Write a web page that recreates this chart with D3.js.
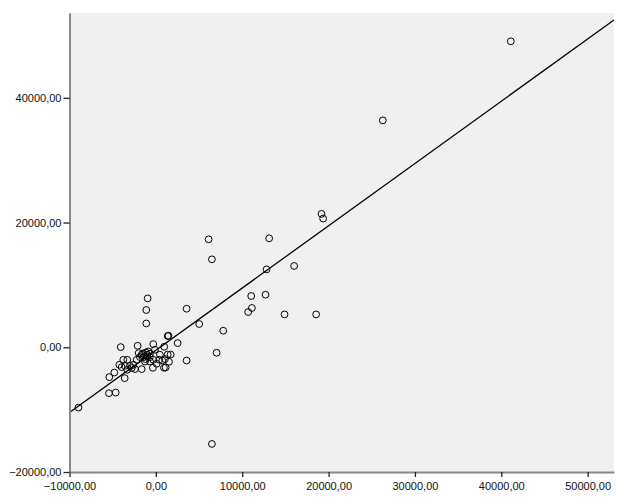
<!DOCTYPE html>
<html>
<head>
<meta charset="utf-8">
<script src="https://cdn.jsdelivr.net/npm/d3@7"></script>
<style>
  html, body { margin: 0; padding: 0; background: #ffffff; }
  svg { display: block; }
  text { font-family: Arial, "Liberation Sans", sans-serif; }
</style>
</head>
<body>
<svg id="chart" width="629" height="504"></svg>
<script>
// ---- data ----
const xVals = [41100, 26280, 19180, 19370, 6110, 13120, 6490, 12820, 16010, 11040,
  12700, 11120, 10690, 14900, 18560, 3560, 5020, 7800, 7030, 3560,
  2520, 6490, -8960, -950, -1110, -1110, 1370, 1460, -4070, -2110,
  -300, 970, -5430, -4650, -5390, -4810, -3610, -1640, -340, 940,
  1130, 1520, 1710, 1370, 470, 390, 740, -4230, -3770, -3310,
  -3580, -3960, -3000, -2610, -2420, -2800, -1990, -1640, -1150, -880,
  -680, -990, -1380, -1840, -100, -300, 1050, 90, -680, -1260,
  -2220, -3310, -1500, -1000, -700, -1200];
const yVals = [49060, 36380, 21390, 20640, 17310, 17470, 14100, 12490, 13040, 8220,
  8430, 6300, 5650, 5270, 5270, 6180, 3730, 2650, -880, -2120,
  670, -15500, -9670, 7840, 5970, 3820, 1800, 1850, 30, 240,
  510, 80, -7360, -7260, -4790, -4050, -4950, -3500, -3290, -3290,
  -3240, -2330, -1160, -1160, -1200, -2010, -2120, -2810, -2010, -2010,
  -2970, -3180, -2970, -2810, -3500, -3340, -930, -1200, -840, -670,
  -1040, -1480, -1570, -1570, -400, -2010, -1900, -2650, -2280, -2280,
  -2010, -3610, -1000, -1200, -1600, -1900];
const xTicks = [-10000, 0, 10000, 20000, 30000, 40000, 50000];
const yTicks = [-20000, 0, 20000, 40000];
const fitSlope = 0.9985;
const fitIntercept = -485;
const xDomain = [-10000, 53050];
const yDomain = [-20000, 53600];

(function () {
// ---- layout ----
const pL = 69.5, pR = 614, pT = 13, pB = 472;
const svg = d3.select("#chart");
const x = d3.scaleLinear().domain(xDomain).range([pL, pR]);
const y = d3.scaleLinear().domain(yDomain).range([pB, pT]);
const fmt = v => d3.format(".2f")(v).replace(".", ",");

svg.append("rect").attr("x", 0).attr("y", 0).attr("width", 629).attr("height", 504).attr("fill", "#fff");
svg.append("rect").attr("x", pL).attr("y", pT).attr("width", pR - pL).attr("height", pB - pT)
  .attr("fill", "#f0f0f0");

svg.append("clipPath").attr("id", "clip").append("rect")
  .attr("x", pL).attr("y", pT).attr("width", pR - pL).attr("height", pB - pT);

// fit line
svg.append("line")
  .attr("clip-path", "url(#clip)")
  .attr("x1", x(xDomain[0])).attr("y1", y(fitSlope * xDomain[0] + fitIntercept))
  .attr("x2", x(xDomain[1])).attr("y2", y(fitSlope * xDomain[1] + fitIntercept))
  .attr("stroke", "#000").attr("stroke-width", 1.3);

// points
const pts = xVals.map((v, i) => [v, yVals[i]]);
svg.append("g").selectAll("circle").data(pts).join("circle")
  .attr("cx", d => x(d[0])).attr("cy", d => y(d[1])).attr("r", 3.4)
  .attr("fill", "none").attr("stroke", "#000").attr("stroke-width", 1);

// axes
const xAxis = svg.append("g").attr("transform", `translate(0,${pB})`)
  .call(d3.axisBottom(x).tickValues(xTicks).tickFormat(fmt).tickSizeInner(5).tickSizeOuter(0).tickPadding(5));
const yAxis = svg.append("g").attr("transform", `translate(${pL},0)`)
  .call(d3.axisLeft(y).tickValues(yTicks).tickFormat(fmt).tickSizeInner(6).tickSizeOuter(0).tickPadding(2));
[xAxis, yAxis].forEach(g => {
  g.select(".domain").attr("stroke", "#888").attr("stroke-width", 2);
  g.selectAll(".tick line").attr("stroke", "#222").attr("stroke-width", 1.3);
  g.selectAll(".tick text").attr("fill", "#111").style("font-size", "11px")
    .style("font-family", "Arial, 'Liberation Sans', sans-serif");
});
})();
</script>
</body>
</html>
